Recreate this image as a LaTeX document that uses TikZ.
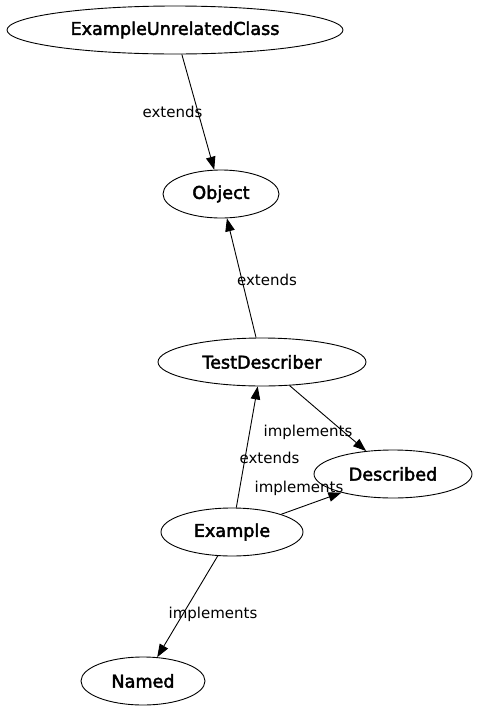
\documentclass[tikz,border=0pt]{standalone}
\usepackage{fontspec}
\setmainfont{DejaVu Sans}
\newfontfamily\nodefont[FakeBold=2.5]{DejaVu Sans}
\usetikzlibrary{shapes.geometric,arrows.meta}
\tikzset{
  cls/.style={draw, ellipse, line width=0.9pt, inner sep=0pt,
    font=\nodefont\fontsize{17.6}{21}\selectfont},
  edge/.style={draw, line width=0.9pt, -{Triangle[length=13pt,width=9.5pt]}},
  lbl/.style={inner sep=0pt, font=\fontsize{15}{18}\selectfont}
}
\begin{document}
\begin{tikzpicture}[x=1pt,y=-1pt]
\useasboundingbox (0,0) rectangle (479,713);
\node[cls, minimum width=336pt, minimum height=48pt] (euc) at (175,30) {ExampleUnrelatedClass};
\node[cls, minimum width=116pt, minimum height=48pt] (obj) at (221,194) {Object};
\node[cls, minimum width=208pt, minimum height=48pt] (td) at (262,362) {TestDescriber};
\node[cls, minimum width=158pt, minimum height=48pt] (des) at (393,474) {Described};
\node[cls, minimum width=142pt, minimum height=48pt] (ex) at (232,532) {Example};
\node[cls, minimum width=124pt, minimum height=48pt] (nam) at (143,681) {Named};

\draw[edge] (euc) -- (obj);
\draw[edge] (td) -- (obj);
\draw[edge] (td) -- (des);
\draw[edge] (ex) -- (td);
\draw[edge] (ex) -- (des);
\draw[edge] (ex) -- (nam);

\node[lbl] (l1) at (172.5,112) {extends};
\node[lbl] (l2) at (267,280) {extends};
\node[lbl] (l3) at (308,432) {implements};
\node[lbl] (l4) at (269.5,458) {extends};
\node[lbl] (l5) at (299,488) {implements};
\node[lbl] (l6) at (213,614) {implements};
\end{tikzpicture}
\end{document}
